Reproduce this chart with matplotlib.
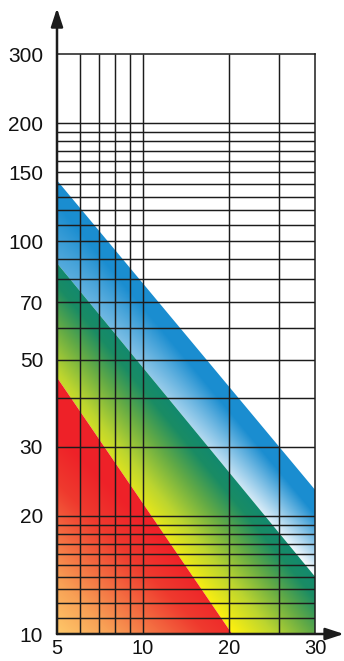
import numpy as np
import matplotlib
matplotlib.use("Agg")
import matplotlib.pyplot as plt
from matplotlib.colors import to_rgb
from matplotlib.patches import Polygon, FancyArrowPatch
from matplotlib.ticker import NullLocator

# band edges, (x, y) at both ends, log-log axes
BLUE_TOP  = [(5, 143), (40, 23.3)]
GREEN_TOP = [(5, 88), (40, 14)]
RED_EDGE  = [(5, 45), (20.5, 10)]

X_LIM = (5, 40)
Y_LIM = (10, 300)
X_GRID = [6, 7, 8, 9, 10, 20, 30]
Y_GRID = [11, 12, 13, 14, 15, 16, 17, 18, 19, 20, 30, 40, 50, 60, 70, 80, 90,
          100, 110, 120, 130, 140, 150, 160, 170, 180, 190, 200]
X_TICKS = [5, 10, 20, 40]
X_TICKLABELS = ["5", "10", "20", "30"]
Y_TICKS = [10, 20, 30, 50, 70, 100, 150, 200, 300]
Y_TICKLABELS = ["10", "20", "30", "50", "70", "100", "150", "200", "300"]

BLUE = "#1a8dd0"
LINE = "#1c1c1c"
GREEN_STOPS = [(0, "#12896e"), (14, "#1a8c64"), (38, "#62aa46"),
               (68, "#bcd52f"), (98, "#fdf00f")]
RED_STOPS = [(0, "#fec96a"), (55, "#f8a055"), (105, "#f36a40"),
             (150, "#ef3a2e"), (200, "#ee2128")]

plt.rcParams["font.family"] = ["Liberation Sans Narrow", "Liberation Sans", "DejaVu Sans"]


def ramp(d, stops):
    pos = [p for p, _ in stops]
    cols = np.array([to_rgb(c) for _, c in stops])
    return np.stack([np.interp(d, pos, cols[:, k]) for k in range(3)], axis=-1)


def main():
    fig = plt.figure(figsize=(3.44, 6.61), dpi=100)
    ax = fig.add_axes([57 / 344, 27 / 661, 258 / 344, 580 / 661])
    ax.set_xscale("log")
    ax.set_yscale("log")
    ax.set_xlim(*X_LIM)
    ax.set_ylim(*Y_LIM)
    ax.set_autoscale_on(False)

    # pixel frame of the axes, for the colour gradients
    origin = ax.transAxes.transform((0, 0))
    W, H = (ax.transAxes.transform((1, 1)) - origin).astype(int)
    X, Y = np.meshgrid(np.arange(W) + 0.5, np.arange(H) + 0.5)

    def edge(pts):
        return ax.transData.transform(pts) - origin

    def y_on(p, x):
        return p[0, 1] + (p[1, 1] - p[0, 1]) * (x - p[0, 0]) / (p[1, 0] - p[0, 0])

    bt, gt = edge(BLUE_TOP), edge(GREEN_TOP)

    # blue band: solid along the upper edge, fading to white low and right
    t = (y_on(bt, X) - Y) / (y_on(bt, X) - y_on(gt, X))
    f = np.clip((t - 0.28) / 0.72, 0, 1) * (0.25 + 0.75 * X / W)
    blue_img = np.array(to_rgb(BLUE)) * (1 - f[..., None]) + f[..., None]

    # green band: teal at its upper edge to yellow further down
    dx, dy = gt[1] - gt[0]
    d = ((y_on(gt, X) - Y) * dx) / np.hypot(dx, dy)
    green_img = ramp(d, GREEN_STOPS)

    # red corner: pale orange in the corner, red further out
    red_img = ramp(X + Y, RED_STOPS)

    regions = [
        (blue_img, BLUE_TOP + GREEN_TOP[::-1]),
        (green_img, GREEN_TOP + [(X_LIM[1], Y_LIM[0])] + RED_EDGE[::-1]),
        (red_img, RED_EDGE + [(X_LIM[0], Y_LIM[0])]),
    ]
    for img, poly in regions:
        im = ax.imshow(img, origin="lower", extent=(0, 1, 0, 1),
                       transform=ax.transAxes, aspect="auto",
                       interpolation="bilinear", zorder=1)
        patch = Polygon(poly, closed=True, facecolor="none",
                        edgecolor="none", transform=ax.transData)
        ax.add_patch(patch)
        im.set_clip_path(patch)
    ax.set_xlim(*X_LIM)
    ax.set_ylim(*Y_LIM)

    ax.vlines(X_GRID, *Y_LIM, color=LINE, lw=1.05, zorder=3)
    ax.hlines(Y_GRID, *X_LIM, color=LINE, lw=1.05, zorder=3)

    for s in ["left", "bottom"]:
        ax.spines[s].set_visible(False)
    for s in ["top", "right"]:
        ax.spines[s].set_linewidth(1.1)
        ax.spines[s].set_color(LINE)
        ax.spines[s].set_zorder(4)

    for end in [(0, 1.079), (1.112, 0)]:
        arr = FancyArrowPatch((0, 0), end, transform=ax.transAxes,
                              arrowstyle="-|>,head_length=1.1,head_width=0.36",
                              mutation_scale=10, lw=1.8, color=LINE,
                              shrinkA=0, shrinkB=0, clip_on=False, zorder=5)
        ax.add_patch(arr)

    ax.xaxis.set_minor_locator(NullLocator())
    ax.yaxis.set_minor_locator(NullLocator())
    ax.set_xticks(X_TICKS, X_TICKLABELS)
    ax.set_yticks(Y_TICKS, Y_TICKLABELS)
    ax.tick_params(axis="y", length=0, pad=10, labelsize=15, labelcolor="#111111")
    ax.tick_params(axis="x", length=0, pad=3.5, labelsize=14.5, labelcolor="#111111")

    fig.savefig("out.png", dpi=100)
    plt.close(fig)


if __name__ == "__main__":
    main()
